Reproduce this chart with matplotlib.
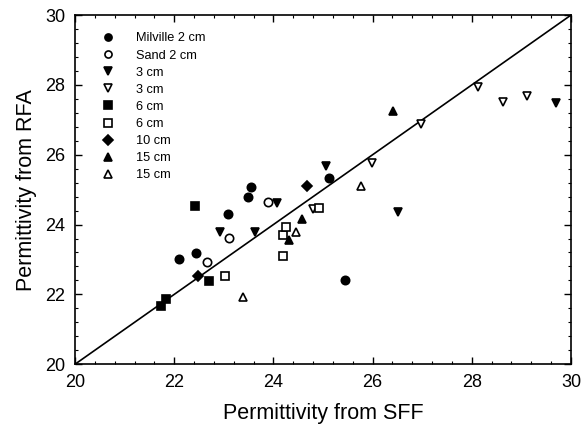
import matplotlib
matplotlib.use("Agg")
import matplotlib.pyplot as plt
from matplotlib.ticker import MultipleLocator

plt.rcParams['font.family'] = ['Liberation Sans', 'DejaVu Sans']

# (SFF, RFA) pairs per series
milville_x = [22.10, 22.43, 23.09, 23.49, 23.55, 25.13, 25.44]
milville_y = [23.00, 23.19, 24.31, 24.78, 25.08, 25.33, 22.40]
sand_x = [22.67, 23.10, 23.89]
sand_y = [22.94, 23.61, 24.64]
d3_filled_x = [22.93, 23.62, 24.07, 25.07, 26.52, 29.70]
d3_filled_y = [23.78, 23.78, 24.62, 25.67, 24.35, 27.48]
d3_open_x = [24.79, 25.98, 26.98, 28.13, 28.62, 29.12]
d3_open_y = [24.45, 25.76, 26.87, 27.95, 27.51, 27.67]
d6_filled_x = [21.73, 21.83, 22.42, 22.70]
d6_filled_y = [21.67, 21.86, 24.54, 22.38]
d6_open_x = [23.03, 24.19, 24.19, 24.25, 24.92]
d6_open_y = [22.52, 23.10, 23.71, 23.93, 24.47]
d10_x = [22.48, 24.68]
d10_y = [22.52, 25.10]
d15_filled_x = [24.32, 24.57, 26.42]
d15_filled_y = [23.57, 24.16, 27.24]
d15_open_x = [23.39, 24.45, 25.77]
d15_open_y = [21.92, 23.78, 25.10]

series = [
    (milville_x, milville_y, 'o', True, 'Milville 2 cm'),
    (sand_x, sand_y, 'o', False, 'Sand 2 cm'),
    (d3_filled_x, d3_filled_y, 'v', True, '3 cm'),
    (d3_open_x, d3_open_y, 'v', False, '3 cm'),
    (d6_filled_x, d6_filled_y, 's', True, '6 cm'),
    (d6_open_x, d6_open_y, 's', False, '6 cm'),
    (d10_x, d10_y, 'D', True, '10 cm'),
    (d15_filled_x, d15_filled_y, '^', True, '15 cm'),
    (d15_open_x, d15_open_y, '^', False, '15 cm'),
]

fig = plt.figure(figsize=(5.82, 4.32), dpi=100)
ax = fig.add_axes([0.129, 0.157, 0.852, 0.808])

ax.plot([20, 30], [20, 30], color='black', lw=1.2, zorder=1)

for x, y, m, filled, lab in series:
    ms = 6 if m != 'D' else 5.5
    ax.plot(x, y, linestyle='none', marker=m, markersize=ms,
            markerfacecolor='black' if filled else 'white',
            markeredgecolor='black', markeredgewidth=1.2, label=lab, zorder=3)

ax.set_xlim(20, 30)
ax.set_ylim(20, 30)
ax.xaxis.set_major_locator(MultipleLocator(2))
ax.yaxis.set_major_locator(MultipleLocator(2))
ax.xaxis.set_minor_locator(MultipleLocator(0.4))
ax.yaxis.set_minor_locator(MultipleLocator(0.4))
ax.tick_params(which='both', direction='in', top=True, right=True, labelsize=13)
ax.tick_params(which='major', length=5, width=1, pad=7)
ax.tick_params(which='minor', length=2.5, width=0.8)
for s in ax.spines.values():
    s.set_linewidth(1.2)

ax.set_xlabel('Permittivity from SFF', fontsize=15.5, labelpad=9)
ax.set_ylabel('Permittivity from RFA', fontsize=15.5, labelpad=6)

ax.legend(loc='upper left', bbox_to_anchor=(0.041, 0.965), frameon=False,
          fontsize=9.2, markerscale=0.85, handlelength=1.2, handletextpad=1.6,
          labelspacing=0.4, borderaxespad=0)

fig.savefig('out.png', dpi=100)
